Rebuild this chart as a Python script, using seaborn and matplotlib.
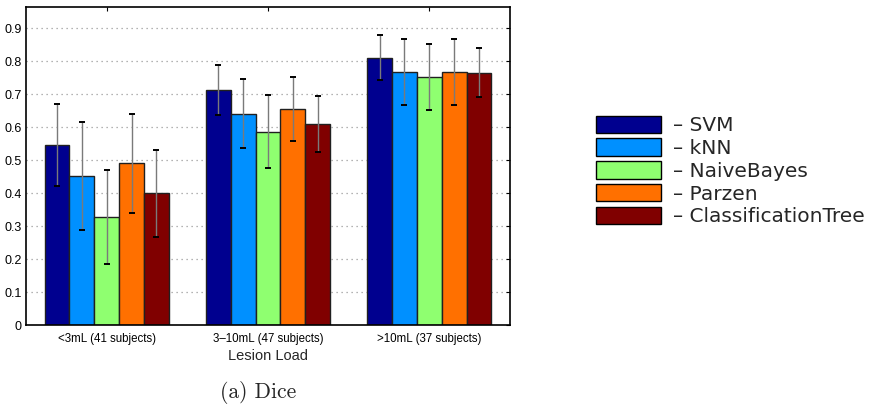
import numpy as np
import pandas as pd
import matplotlib
matplotlib.use("Agg")
import matplotlib.pyplot as plt
import seaborn as sns
from matplotlib.patches import Patch

categories = ["<3mL (41 subjects)", "3\u201310mL (47 subjects)", ">10mL (37 subjects)"]
methods = ["SVM", "kNN", "NaiveBayes", "Parzen", "ClassificationTree"]
colors = ["#00008F", "#0090FF", "#8FFF70", "#FF7000", "#800000"]

svm_mean = [0.545, 0.713, 0.810]
knn_mean = [0.452, 0.641, 0.767]
nb_mean = [0.328, 0.586, 0.752]
parzen_mean = [0.491, 0.656, 0.766]
ct_mean = [0.399, 0.609, 0.765]

svm_err = [0.125, 0.075, 0.068]
knn_err = [0.164, 0.105, 0.100]
nb_err = [0.143, 0.110, 0.100]
parzen_err = [0.150, 0.097, 0.100]
ct_err = [0.133, 0.085, 0.075]

yticks = [0, 0.1, 0.2, 0.3, 0.4, 0.5, 0.6, 0.7, 0.8, 0.9]
ytick_labels = ["0", "0.1", "0.2", "0.3", "0.4", "0.5", "0.6", "0.7", "0.8", "0.9"]

means = [svm_mean, knn_mean, nb_mean, parzen_mean, ct_mean]
errs = [svm_err, knn_err, nb_err, parzen_err, ct_err]
rows = []
for m, mv, ev in zip(methods, means, errs):
    for c, v, e in zip(categories, mv, ev):
        rows.append({"Lesion Load": c, "Method": m, "Dice": v, "err": e})
df = pd.DataFrame(rows)

sns.set_style("white")
plt.rcParams["font.family"] = ["Liberation Sans", "DejaVu Sans"]

fig = plt.figure(figsize=(8.9, 4.12), dpi=100)
ax = fig.add_axes([26 / 890, 1 - 325 / 412, (510 - 26) / 890, (325 - 7) / 412])

sns.barplot(data=df, x="Lesion Load", y="Dice", hue="Method", hue_order=methods,
            order=categories, palette=colors, width=0.77, errorbar=None,
            edgecolor="#202020", linewidth=1.0, ax=ax, legend=False, saturation=1)

for cont, m in zip(ax.containers, methods):
    sub = df[df["Method"] == m].set_index("Lesion Load").loc[categories]
    xs = [p.get_x() + p.get_width() / 2 for p in cont.patches]
    ys = sub["Dice"].to_numpy()
    es = sub["err"].to_numpy()
    ax.errorbar(xs, ys, yerr=es, fmt="none", ecolor="#7a7a7a", elinewidth=1.0,
                capsize=0, zorder=3)
    ax.errorbar(xs, ys, yerr=es, fmt="none", ecolor="black", elinewidth=0,
                capsize=2.4, capthick=1.4, zorder=4)

ax.set_xlim(-0.5, 2.5)
ax.set_ylim(0, 0.964)
ax.set_yticks(yticks)
ax.set_yticklabels(ytick_labels)
ax.yaxis.grid(True, linestyle=(0, (1, 3)), color="#9a9a9a", linewidth=0.9)
ax.xaxis.grid(False)
ax.set_axisbelow(True)
ax.tick_params(axis="both", direction="in", length=3, width=0.8, top=True, right=True,
               colors="black")
ax.tick_params(axis="x", labelsize=8.3, pad=6)
ax.tick_params(axis="y", labelsize=9, pad=3)
for s in ax.spines.values():
    s.set_visible(True)
    s.set_color("black")
    s.set_linewidth(1.2)
ax.set_ylabel("")
ax.set_xlabel("Lesion Load", fontsize=10.5, labelpad=3)

handles = [Patch(facecolor=c, edgecolor="black", linewidth=1.0) for c in colors]
labels = ["\u2013 " + m for m in methods]
fig.legend(handles, labels, loc="center left", bbox_to_anchor=(582 / 890, 1 - 171 / 412),
           frameon=False, handlelength=3.2, handleheight=0.95, labelspacing=0.16,
           handletextpad=0.6, borderpad=0.2, prop={"family": "DejaVu Sans", "size": 14.5})

fig.text(258 / 890, 1 - 393 / 412, "(a) Dice", ha="center", va="center",
         fontsize=15.5, family=["cmr10", "DejaVu Serif"])

fig.savefig("out.png", dpi=100)
